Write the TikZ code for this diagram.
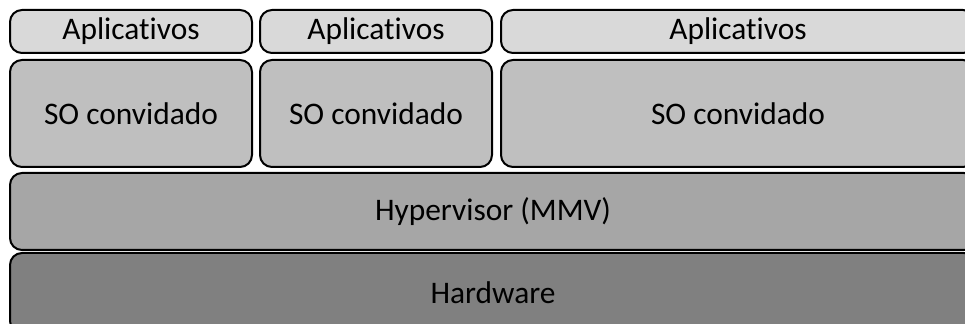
\documentclass[tikz,border=0pt]{standalone}
\usepackage{fontspec}
\setmainfont{Carlito}[Ligatures={NoCommon}]
\usepackage{tikz}

\definecolor{appgray}{HTML}{D9D9D9}
\definecolor{sogray}{HTML}{BFBFBF}
\definecolor{hypgray}{HTML}{A6A6A6}
\definecolor{hwgray}{HTML}{808080}

\tikzset{
    layer/.style={draw=black, line width=1pt, rounded corners=6pt, inner sep=0pt, outer sep=0pt,
        font=\fontsize{15.7}{18}\selectfont},
    apps/.style={layer, fill=appgray, minimum height=21.5pt},
    guest/.style={layer, fill=sogray, minimum height=53.5pt},
}

\begin{document}
\begin{tikzpicture}[x=0.5pt, y=-0.5pt]
    \clip (0,0) rectangle (965,324);
    \useasboundingbox (0,0) rectangle (965,324);
    \fill[white] (0,0) rectangle (965,324);

    % aplicativos
    \node (A1) at (131,31.5) [apps, minimum width=121pt] {Aplicativos};
    \node (A2) at (376,31.5) [apps, minimum width=116pt] {Aplicativos};
    \node (A3) at (738,31.5) [apps, minimum width=237pt] {Aplicativos};

    % sistemas convidados
    \node (S1) at (131,113.5) [guest, minimum width=121pt] {SO convidado};
    \node (S2) at (376,113.5) [guest, minimum width=116pt] {SO convidado};
    \node (S3) at (738,113.5) [guest, minimum width=237pt] {SO convidado};

    % hypervisor
    \node (H) at (493,211.5) [layer, fill=hypgray, minimum width=483pt, minimum height=38.5pt] {Hypervisor (MMV)};

    % hardware
    \node (W) at (493,293) [layer, fill=hwgray, minimum width=483pt, minimum height=40pt] {Hardware};
\end{tikzpicture}
\end{document}
